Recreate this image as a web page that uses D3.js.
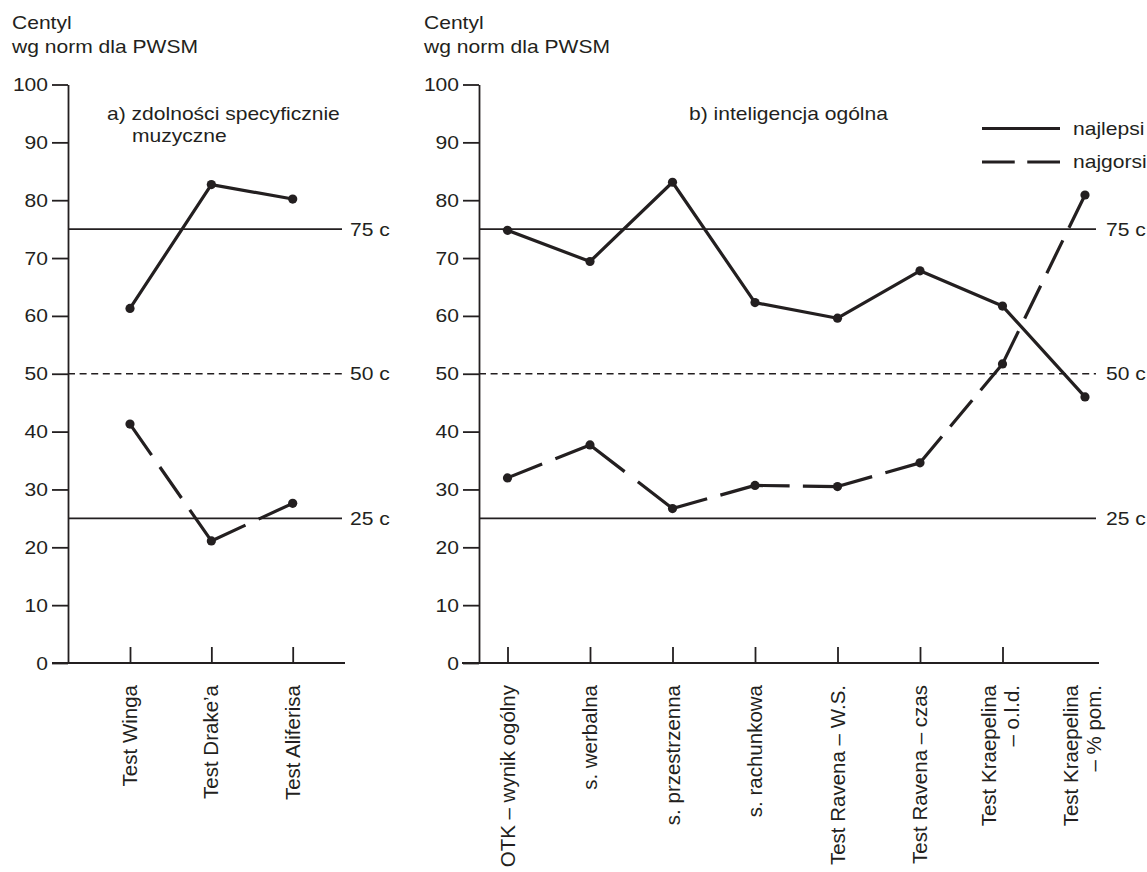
<!DOCTYPE html>
<html>
<head>
<meta charset="utf-8">
<script src="https://cdn.jsdelivr.net/npm/d3@7"></script>
<style>
  body { margin: 0; background: #fff; }
  svg { display: block; font-family: 'Liberation Sans', Arial, sans-serif; }
</style>
</head>
<body>
<svg id="chart" width="1147" height="872"></svg>
<script>
// dane (centyle)
const musicTests = ['Test Winga', 'Test Drake\u2019a', 'Test Aliferisa']
const musicBest = [61.3, 82.7, 80.2]
const musicWorst = [41.3, 21.1, 27.6]

const iqTests = [
  'OTK – wynik ogólny',
  's. werbalna',
  's. przestrzenna',
  's. rachunkowa',
  'Test Ravena – W.S.',
  'Test Ravena – czas',
  'Test Kraepelina|– o.l.d.',
  'Test Kraepelina|– % pom.',
]
const iqBest = [74.8, 69.4, 83.1, 62.3, 59.6, 67.8, 61.7, 46.0]
const iqWorst = [32.0, 37.7, 26.7, 30.7, 30.5, 34.6, 51.7, 80.9]

const yTicks = [0, 10, 20, 30, 40, 50, 60, 70, 80, 90, 100]
const refValues = [75, 50, 25]
const refLabels = ['75 c', '50 c', '25 c']
const seriesNames = ['najlepsi', 'najgorsi']

const INK = '#231f20'
const svg = d3.select('#chart')

const yScale = d3.scaleLinear().domain([0, 100]).range([663, 84.5])

// tekst poziomy lekko rozciągnięty, jak w oryginale
const hText = (g, x, y, str, anchor = 'start') =>
  g.append('text')
    .attr('transform', `translate(${x},${y}) scale(1.17,1)`)
    .attr('text-anchor', anchor)
    .style('font-size', '18px')
    .attr('fill', INK)
    .text(str)

// odcinek przerywany: kreski dopasowane do końców odcinka
const dashSeg = (g, x1, y1, x2, y2) => {
  const len = Math.hypot(x2 - x1, y2 - y1)
  const n = Math.max(1, Math.round((len + 13) / 47))
  const k = len / (n * 34 + (n - 1) * 13)
  g.append('line')
    .attr('x1', x1).attr('y1', y1).attr('x2', x2).attr('y2', y2)
    .attr('stroke', INK)
    .attr('stroke-width', 3.2)
    .attr('stroke-dasharray', n > 1 ? `${34 * k},${13 * k}` : null)
}

const drawPanel = (cfg) => {
  const { cats, best, worst, axisX, xStart, xEnd, range, labelX, title, headerX, noLastTick } = cfg
  const g = svg.append('g')
  const xScale = d3.scalePoint().domain(cats).range(range)

  // nagłówek osi
  hText(g, headerX, 29, 'Centyl')
  hText(g, headerX, 53, 'wg norm dla PWSM')

  // tytuł panelu
  title.forEach((t, i) => hText(g, t.x, 120 + i * 21.5, t.text))

  // linie odniesienia
  refValues.forEach((v, i) => {
    g.append('line')
      .attr('x1', axisX).attr('x2', xEnd - 3)
      .attr('y1', yScale(v)).attr('y2', yScale(v))
      .attr('stroke', INK)
      .attr('stroke-width', v === 50 ? 1.5 : 1.7)
      .attr('stroke-dasharray', v === 50 ? '7,4.6' : null)
    hText(g, labelX, yScale(v) + 6.5, refLabels[i])
  })

  // oś Y
  const axisY = d3.axisLeft(yScale).tickValues(yTicks).tickSize(16).tickSizeOuter(0).tickFormat('')
  const gy = g.append('g').attr('transform', `translate(${axisX},0)`).call(axisY)
  gy.selectAll('path, line').attr('stroke', INK).attr('stroke-width', 1.8)
  yTicks.forEach((t) => hText(g, axisX - 20, yScale(t) + 6.5, String(t), 'end'))

  // oś X
  g.append('line')
    .attr('x1', xStart).attr('x2', xEnd)
    .attr('y1', yScale(0)).attr('y2', yScale(0))
    .attr('stroke', INK).attr('stroke-width', 1.8)
  const axisX2 = d3.axisBottom(xScale)
    .tickValues(noLastTick ? cats.slice(0, -1) : cats)
    .tickSize(-16).tickSizeOuter(0).tickFormat('')
  const gx = g.append('g').attr('transform', `translate(0,${yScale(0)})`).call(axisX2)
  gx.select('.domain').remove()
  gx.selectAll('line').attr('stroke', INK).attr('stroke-width', 1.8)

  cats.forEach((c) => {
    const lines = c.split('|')
    const x = xScale(c)
    const offs = lines.length === 1 ? [7] : [-7, 16]
    lines.forEach((l, i) => {
      g.append('text')
        .attr('transform', `translate(${x + offs[i]},685) rotate(-90)`)
        .attr('text-anchor', 'end')
        .style('font-size', '20.5px')
        .attr('fill', INK)
        .text(l)
    })
  })

  // seria: najlepsi (ciągła)
  const line = d3.line().x((d, i) => xScale(cats[i])).y((d) => yScale(d))
  g.append('path')
    .datum(best)
    .attr('d', line)
    .attr('fill', 'none')
    .attr('stroke', INK)
    .attr('stroke-width', 3.2)
    .attr('stroke-linejoin', 'round')

  // seria: najgorsi (przerywana)
  worst.forEach((d, i) => {
    if (i === 0) return
    dashSeg(g, xScale(cats[i - 1]), yScale(worst[i - 1]), xScale(cats[i]), yScale(d))
  })

  ;[best, worst].forEach((s) => {
    g.append('g').selectAll('circle').data(s).enter()
      .append('circle')
      .attr('cx', (d, i) => xScale(cats[i]))
      .attr('cy', (d) => yScale(d))
      .attr('r', 4.6)
      .attr('fill', INK)
  })
}

drawPanel({
  cats: musicTests, best: musicBest, worst: musicWorst,
  axisX: 68, xStart: 52, xEnd: 345, range: [130, 292.7], labelX: 350, headerX: 12,
  title: [{ x: 107, text: 'a) zdolności specyficznie' }, { x: 132, text: 'muzyczne' }],
  noLastTick: false,
})

drawPanel({
  cats: iqTests, best: iqBest, worst: iqWorst,
  axisX: 479, xStart: 462, xEnd: 1099, range: [507.5, 1085], labelX: 1106, headerX: 424,
  title: [{ x: 689, text: 'b) inteligencja ogólna' }],
  noLastTick: true,
})

// legenda
const legend = svg.append('g')
legend.append('line')
  .attr('x1', 982).attr('x2', 1060).attr('y1', 128.5).attr('y2', 128.5)
  .attr('stroke', INK).attr('stroke-width', 3.2)
dashSeg(legend, 982, 162, 1060, 162)
hText(legend, 1073, 134.5, seriesNames[0])
hText(legend, 1073, 168, seriesNames[1])
</script>
</body>
</html>
